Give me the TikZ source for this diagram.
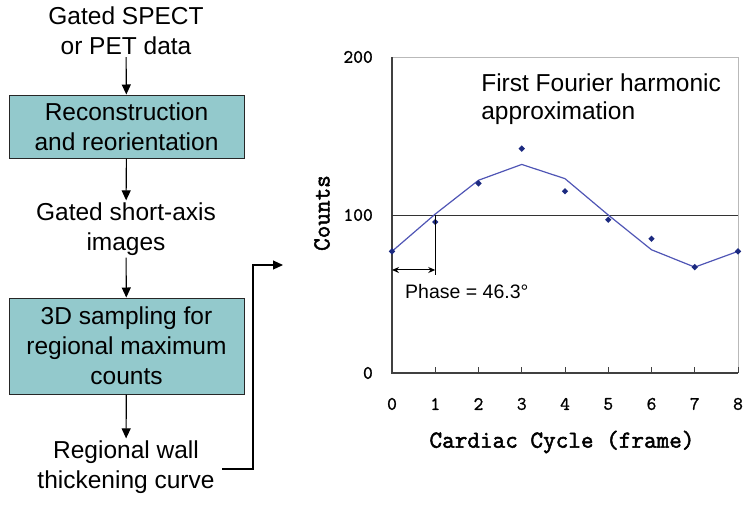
\documentclass[tikz,border=0pt]{standalone}
\usepackage{fontspec}
\setmainfont{Liberation Sans}
\newfontfamily\chartfont[FakeBold=1.2]{Latin Modern Mono}
\newfontfamily\charttitle[FakeBold=2]{Latin Modern Mono}
\usetikzlibrary{arrows.meta,shapes.geometric}
\definecolor{boxfill}{HTML}{93C9CC}
\definecolor{curvecol}{HTML}{4F55B5}
\definecolor{markcol}{HTML}{1C2A80}
\begin{document}
\begin{tikzpicture}[x=1pt,y=-1pt,
  flow/.style={font=\fontsize{24.5}{30}\selectfont, align=center, inner sep=2pt},
  procbox/.style={flow, draw=black!85, line width=1pt, fill=boxfill, minimum width=235pt},
  arr/.style={-{Triangle[length=10pt,width=9pt]}, line width=1.1pt},
  ticklab/.style={font=\chartfont\fontsize{19}{19}\selectfont, inner sep=0pt},
  axtitle/.style={font=\charttitle\fontsize{24.5}{25}\selectfont, inner sep=0pt},
  mk/.style={diamond, fill=markcol, inner sep=0pt, minimum size=6.5pt},
  note/.style={align=left, inner sep=0pt}]
\useasboundingbox (0,0) rectangle (750,504);

% ---- flow chart ----
\node[flow] (t1) at (126,31) {Gated SPECT\\or PET data};
\node[procbox, minimum height=63pt] (b1) at (126.5,126.5) {Reconstruction\\and reorientation};
\node[flow] (t2) at (126,229) {Gated short-axis\\images};
\node[procbox, minimum height=96pt] (b2) at (126.5,346) {3D sampling for\\regional maximum\\counts};
\node[flow] (t3) at (126,467) {Regional wall\\thickening curve};

\draw[arr] (t1) -- (b1);
\draw[arr] (b1) -- (t2);
\draw[arr] (t2) -- (b2);
\draw[arr] (b2) -- (t3);

\coordinate (c1) at (253,265);
\coordinate (c2) at (283,265);
\coordinate (c0) at (222,469);
\draw[arr] (c0) -- (c0 -| c1) -- (c1) -- (c2);

% ---- chart ----
\begin{scope}[shift={(392,373)}, x=43.25pt, y=1.58pt]
  \draw[gray!55, line width=0.8pt] (0,200) -- (8,200) -- (8,0);
  \draw[black!75, line width=1.2pt] (0,200) -- (0,0) -- (8,0);
  \draw[black!80, line width=1pt] (0,100) -- (8,100);
  \foreach \i in {1,...,8} \draw[black!75, line width=1pt] (\i,0) -- (\i,4);
  \foreach \i in {0,...,8} \node[ticklab] (xt\i) at (\i,-19.6) {\i};
  \node[ticklab, anchor=east, xshift=-19pt] (y0) at (0,0) {0};
  \node[ticklab, anchor=east, xshift=-19pt] (y100) at (0,100) {100};
  \node[ticklab, anchor=east, xshift=-19pt] (y200) at (0,200) {200};

  \draw[curvecol, line width=1.2pt] plot coordinates {(0,77) (1,100.6) (2,122) (3,132) (4,123) (5,100) (6,78) (7,67) (8,77)};
  \foreach \i/\v in {0/77,1/95.6,2/120,3/142,4/115,5/97,6/85,7/67,8/77}
    \node[mk] (m\i) at (\i,\v) {};

  \coordinate (ph1) at (1,100);
  \coordinate (ph2) at (1,62);
  \coordinate (pa) at (0,65.2);
  \coordinate (pb) at (1,65.2);
  \draw[black, line width=1pt] (ph1) -- (ph2);
  \draw[{Stealth[length=7pt,width=6pt]}-{Stealth[length=7pt,width=6pt]}, line width=1pt] (pa) -- (pb);
  \node[note, anchor=west, font=\fontsize{19.5}{20}\selectfont] (phase) at (0.3,51.3) {Phase = 46.3°};
  \node[note, anchor=west, font=\fontsize{24.5}{28}\selectfont] (fourier) at (2.06,173.4) {First Fourier harmonic\\approximation};
\end{scope}

\node[axtitle] (xtitle) at (562,442) {Cardiac Cycle (frame)};
\node[axtitle, rotate=90] (ytitle) at (322,213) {Counts};
\end{tikzpicture}
\end{document}
